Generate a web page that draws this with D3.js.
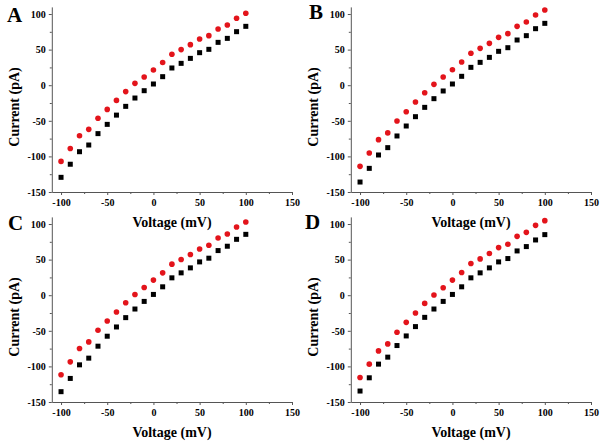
<!DOCTYPE html>
<meta charset="utf-8">
<style>
body { margin: 0; background: #fff; }
</style>
<body>
<script src="https://cdnjs.cloudflare.com/ajax/libs/d3/7.8.5/d3.min.js"></script>
<script>

// voltage steps (mV)
var voltage = [-100, -90, -80, -70, -60, -50, -40, -30, -20, -10, 0, 10, 20, 30, 40, 50, 60, 70, 80, 90, 100];

// currents (pA), red circles and black squares for each panel
var redA = [-107, -89, -71, -62, -46.5, -34, -21.3, -9, 2.6, 11.5, 21.3, 32, 43.4, 50, 57, 65, 69.6, 79, 84.6, 94, 101];
var blackA = [-129.4, -111, -93.4, -84, -68, -55, -42, -29.7, -18, -7.7, 1.7, 12, 24.2, 30.7, 37.7, 45.7, 50.4, 60.2, 65.8, 75.2, 82.7];
var redB = [-114, -95.2, -76.5, -67, -50.3, -37.2, -23.6, -10.5, 1.2, 11.5, 21.8, 32.6, 44.8, 51.8, 58.8, 67.2, 72.4, 82.7, 88.8, 98.6, 105.6];
var blackB = [-136, -116.8, -98, -87.7, -71.3, -57.3, -44.2, -31.1, -18.9, -8.1, 1.7, 12.5, 25.1, 32.1, 39.1, 47.6, 52.7, 63.5, 69.6, 79.4, 86.9];
var redC = [-111.8, -93.6, -74.9, -65.6, -49.3, -36.2, -23.6, -10.5, 1.1, 10.9, 21.2, 31.4, 43.6, 50.1, 57.1, 65, 70.1, 80.4, 86, 95.8, 102.8];
var blackC = [-135.5, -116.9, -97.8, -88.4, -71.6, -57.6, -44.6, -31.5, -19.4, -8.7, 1.1, 11.8, 24.4, 31.4, 38.4, 46.8, 52, 62.7, 68.8, 78.5, 85.5];
var redD = [-115.5, -96.8, -78.2, -68.4, -52.1, -38.1, -25, -11.5, 0.2, 10.4, 21.2, 31.9, 44.5, 51, 58.5, 66.9, 71.5, 82.7, 88.3, 98.1, 104.7];
var blackD = [-134.6, -116, -96.8, -87, -70.7, -57.2, -44.1, -31.1, -19.4, -8.7, 1.1, 11.8, 24.4, 31.4, 38.4, 46.8, 51.5, 62.2, 68.3, 77.6, 85.1];

var xTicks = [-100, -50, 0, 50, 100, 150];
var yTicks = [-150, -100, -50, 0, 50, 100];

var panels = [
    {label: "A", red: redA, black: blackA, dx: 0, dy: 0, lx: 7, ly: 22},
    {label: "B", red: redB, black: blackB, dx: 299, dy: 0, lx: 10, ly: 19},
    {label: "C", red: redC, black: blackC, dx: 0, dy: 210, lx: 8, ly: 20},
    {label: "D", red: redD, black: blackD, dx: 299, dy: 210, lx: 6, ly: 19}
];

var serif = "'Liberation Serif', 'Times New Roman', 'DejaVu Serif', serif";

var svg = d3.select("body").append("svg")
    .attr("width", 600)
    .attr("height", 445)
    .attr("font-family", serif)
    .attr("font-weight", "bold");

// same scales for every panel, panels are just shifted
var x = d3.scaleLinear().domain([-110, 150]).range([51.8, 292]);
var y = d3.scaleLinear().domain([-150, 110]).range([192, 6.9]);

panels.forEach(function(p) {
    var g = svg.append("g")
        .attr("transform", "translate(" + p.dx + "," + p.dy + ")");

    // minor ticks
    g.append("g")
        .attr("transform", "translate(0," + y(-150) + ")")
        .call(d3.axisBottom(x).tickValues(d3.range(-75, 150, 50)).tickSize(2).tickFormat(""))
        .call(function(a) { a.select(".domain").remove(); });
    g.append("g")
        .attr("transform", "translate(" + x(-110) + ",0)")
        .call(d3.axisLeft(y).tickValues(d3.range(-125, 110, 50)).tickSize(2).tickFormat(""))
        .call(function(a) { a.select(".domain").remove(); });

    // x axis
    g.append("g")
        .attr("transform", "translate(0," + y(-150) + ")")
        .call(d3.axisBottom(x).tickValues(xTicks).tickFormat(String)
            .tickSizeInner(3).tickSizeOuter(0).tickPadding(4))
        .attr("font-size", 10)
        .attr("font-family", serif);

    // y axis
    g.append("g")
        .attr("transform", "translate(" + x(-110) + ",0)")
        .call(d3.axisLeft(y).tickValues(yTicks).tickFormat(String)
            .tickSizeInner(3).tickSizeOuter(0).tickPadding(3))
        .attr("font-size", 10)
        .attr("font-family", serif);

    g.selectAll(".domain, .tick line").attr("stroke", "#555");

    // axis titles
    g.append("text")
        .attr("x", 172)
        .attr("y", 227)
        .attr("text-anchor", "middle")
        .attr("font-size", 14)
        .text("Voltage (mV)");

    g.append("text")
        .attr("transform", "translate(19,107) rotate(-90)")
        .attr("text-anchor", "middle")
        .attr("font-size", 14)
        .text("Current (pA)");

    // panel letter
    g.append("text")
        .attr("x", p.lx)
        .attr("y", p.ly)
        .attr("font-size", 21)
        .text(p.label);

    // black squares
    g.selectAll(".sq")
        .data(p.black)
        .enter().append("rect")
        .attr("class", "sq")
        .attr("x", function(d, i) { return x(voltage[i]) - 2.5; })
        .attr("y", function(d) { return y(d) - 2.5; })
        .attr("width", 5)
        .attr("height", 5)
        .attr("fill", "#000");

    // red circles
    g.selectAll(".dot")
        .data(p.red)
        .enter().append("circle")
        .attr("class", "dot")
        .attr("cx", function(d, i) { return x(voltage[i]); })
        .attr("cy", function(d) { return y(d); })
        .attr("r", 2.8)
        .attr("fill", "#e3141b");
});

</script>
</body>
